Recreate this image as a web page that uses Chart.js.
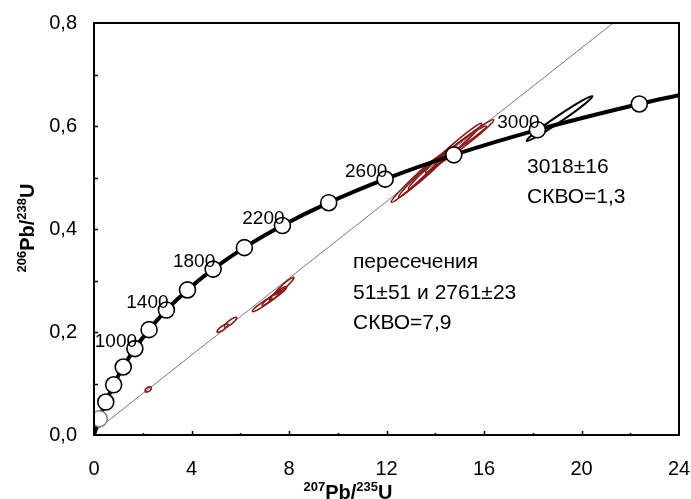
<!DOCTYPE html>
<html>
<head>
<meta charset="utf-8">
<script src="https://cdn.jsdelivr.net/npm/chart.js@4/dist/chart.umd.min.js"></script>
<style>
  html, body { margin: 0; padding: 0; background: #fff; }
  #wrap { width: 691px; height: 499px; }
</style>
</head>
<body>
<div id="wrap"><canvas id="c" width="691" height="499"></canvas></div>
<script>
// concordia: age points (Ma) with 207Pb/235U and 206Pb/238U values
const circleAges = [200, 400, 600, 800, 1000, 1200, 1400, 1600, 1800, 2000, 2200, 2400, 2600, 2800, 3000, 3200]
const circleX = [0.218, 0.483, 0.806, 1.199, 1.677, 2.260, 2.970, 3.835, 4.887, 6.169, 7.729, 9.629, 11.944, 14.762, 18.19, 22.372]
const circleY = [0.0315, 0.0640, 0.0975, 0.1321, 0.1678, 0.2046, 0.2426, 0.2817, 0.3221, 0.3638, 0.4067, 0.4511, 0.4968, 0.5440, 0.5926, 0.6428]
const labelAges = [1000, 1400, 1800, 2200, 2600, 3000]

// curve ends
const curveStart = { x: 0, y: 0 }
const curveEnd = { x: 24, y: 0.660 }

// discordia line (lower intercept -> top of plot)
const discX = [0.0515, 21.3]
const discY = [0.0079, 0.8]

// error ellipses: long axis end points
const redX1 = [2.10, 5.05, 5.35, 6.50, 6.90, 7.20, 7.40, 12.20, 12.50, 12.90, 13.60, 14.00, 14.30]
const redY1 = [0.085, 0.200, 0.210, 0.240, 0.252, 0.262, 0.272, 0.452, 0.462, 0.478, 0.510, 0.525, 0.540]
const redX2 = [2.35, 5.50, 5.85, 7.30, 7.70, 7.90, 8.20, 14.30, 14.60, 14.80, 15.90, 16.40, 16.10]
const redY2 = [0.092, 0.215, 0.228, 0.266, 0.280, 0.288, 0.306, 0.545, 0.555, 0.560, 0.605, 0.612, 0.600]
const blackX1 = [17.75]
const blackY1 = [0.571]
const blackX2 = [20.45]
const blackY2 = [0.658]

const xTicks = [0, 4, 8, 12, 16, 20, 24]
const yTicks = ["0,0", "0,2", "0,4", "0,6", "0,8"]

const FONT = '"Liberation Sans", Arial, sans-serif'

const curveData = [curveStart]
  .concat(circleX.map((x, i) => ({ x: x, y: circleY[i] })))
  .concat([curveEnd])

const circleData = circleX.map((x, i) => ({ x: x, y: circleY[i] }))

// рисуем эллипсы, подписи, рамку и засечки
const extras = {
  id: 'extras',
  beforeDatasetsDraw(chart) {
    const ctx = chart.ctx
    const xs = chart.scales.x, ys = chart.scales.y
    const drawEll = (x1, y1, x2, y2, color, lw, ratio) => {
      for (let i = 0; i < x1.length; i++) {
        const ax = xs.getPixelForValue(x1[i]), ay = ys.getPixelForValue(y1[i])
        const bx = xs.getPixelForValue(x2[i]), by = ys.getPixelForValue(y2[i])
        const len = Math.hypot(bx - ax, by - ay) / 2
        ctx.beginPath()
        ctx.ellipse((ax + bx) / 2, (ay + by) / 2, len, Math.max(2, len * ratio), Math.atan2(by - ay, bx - ax), 0, Math.PI * 2)
        ctx.strokeStyle = color
        ctx.lineWidth = lw
        ctx.stroke()
      }
    }
    ctx.save()
    drawEll(redX1, redY1, redX2, redY2, '#8e1414', 1.6, 0.09)
    drawEll(blackX1, blackY1, blackX2, blackY2, '#000', 2, 0.08)
    ctx.restore()
  },
  afterDraw(chart) {
    const ctx = chart.ctx
    const xs = chart.scales.x, ys = chart.scales.y
    const a = chart.chartArea
    ctx.save()

    // рамка
    ctx.strokeStyle = '#000'
    ctx.lineWidth = 2
    ctx.strokeRect(a.left, a.top, a.right - a.left, a.bottom - a.top)

    // засечки внутрь
    ctx.lineWidth = 1.5
    ctx.beginPath()
    for (let v = 2; v < 24; v += 2) {
      const px = Math.round(xs.getPixelForValue(v)) + 0.5
      const len = v % 4 === 0 ? 4 : 2
      ctx.moveTo(px, a.bottom)
      ctx.lineTo(px, a.bottom - len)
    }
    for (let k = 1; k < 8; k++) {
      const py = Math.round(ys.getPixelForValue(k / 10)) + 0.5
      ctx.moveTo(a.left, py)
      ctx.lineTo(a.left + 4, py)
    }
    ctx.stroke()

    // подписи возрастов
    ctx.fillStyle = '#000'
    ctx.font = '19px ' + FONT
    ctx.textAlign = 'center'
    ctx.textBaseline = 'middle'
    labelAges.forEach((age) => {
      const i = circleAges.indexOf(age)
      const px = xs.getPixelForValue(circleX[i])
      const py = ys.getPixelForValue(circleY[i])
      ctx.fillText(String(age), px - 19, py - 7)
    })

    // пересечения
    ctx.font = '21px ' + FONT
    ctx.textAlign = 'left'
    ctx.fillText('пересечения', a.left + 259, a.top + 239)
    ctx.fillText('51±51 и 2761±23', a.left + 259, a.top + 270)
    ctx.fillText('СКВО=7,9', a.left + 259, a.top + 300)
    ctx.fillText('3018±16', a.left + 433, a.top + 144)
    ctx.fillText('СКВО=1,3', a.left + 433, a.top + 174)

    // заголовки осей
    const title = (sup1, main1, sup2, main2) => {
      const big = 'bold 20px ' + FONT, small = 'bold 13px ' + FONT
      const parts = [[sup1, small, -8], [main1, big, 0], [sup2, small, -8], [main2, big, 0]]
      let w = 0
      parts.forEach((p) => { ctx.font = p[1]; w += ctx.measureText(p[0]).width })
      let x = -w / 2
      ctx.textAlign = 'left'
      ctx.textBaseline = 'alphabetic'
      parts.forEach((p) => {
        ctx.font = p[1]
        ctx.fillText(p[0], x, p[2])
        x += ctx.measureText(p[0]).width
      })
    }
    ctx.save()
    ctx.translate(348, 499)
    title('207', 'Pb/', '235', 'U')
    ctx.restore()
    ctx.save()
    ctx.translate(34, 228)
    ctx.rotate(-Math.PI / 2)
    title('206', 'Pb/', '238', 'U')
    ctx.restore()

    ctx.restore()
  }
}

new Chart(document.getElementById('c'), {
  type: 'scatter',
  data: {
    datasets: [
      {
        type: 'line',
        data: discX.map((x, i) => ({ x: x, y: discY[i] })),
        borderColor: '#555',
        borderWidth: 0.8,
        pointRadius: 0,
        order: 3
      },
      {
        type: 'line',
        data: curveData,
        borderColor: '#000',
        borderWidth: 4,
        pointRadius: 0,
        cubicInterpolationMode: 'monotone',
        order: 2
      },
      {
        data: circleData,
        pointRadius: 8,
        pointBackgroundColor: '#fff',
        pointBorderColor: circleAges.map((a) => (a === 200 ? '#888' : '#000')),
        pointBorderWidth: 1.6,
        order: 1
      }
    ]
  },
  options: {
    responsive: false,
    animation: false,
    events: [],
    layout: { padding: { top: 23, right: 12, left: 0, bottom: 0 } },
    plugins: { legend: { display: false }, tooltip: { enabled: false } },
    scales: {
      x: {
        type: 'linear',
        min: 0,
        max: 24,
        afterFit: (s) => { s.height = 64; s.paddingLeft = 0; s.paddingRight = 0 },
        afterBuildTicks: (s) => { s.ticks = xTicks.map((v) => ({ value: v })) },
        grid: { display: false, drawTicks: false },
        border: { display: false },
        ticks: {
          padding: 22,
          color: '#000',
          font: { family: FONT, size: 20 },
          callback: (v) => String(v)
        }
      },
      y: {
        type: 'linear',
        min: 0,
        max: 0.8,
        afterFit: (s) => { s.width = 94; s.paddingTop = 0; s.paddingBottom = 0 },
        afterBuildTicks: (s) => { s.ticks = yTicks.map((t, i) => ({ value: i * 0.2 })) },
        grid: { display: false, drawTicks: false },
        border: { display: false },
        ticks: {
          padding: 17,
          color: '#000',
          font: { family: FONT, size: 20 },
          callback: (v, i) => yTicks[i]
        }
      }
    }
  },
  plugins: [extras]
})
</script>
</body>
</html>
